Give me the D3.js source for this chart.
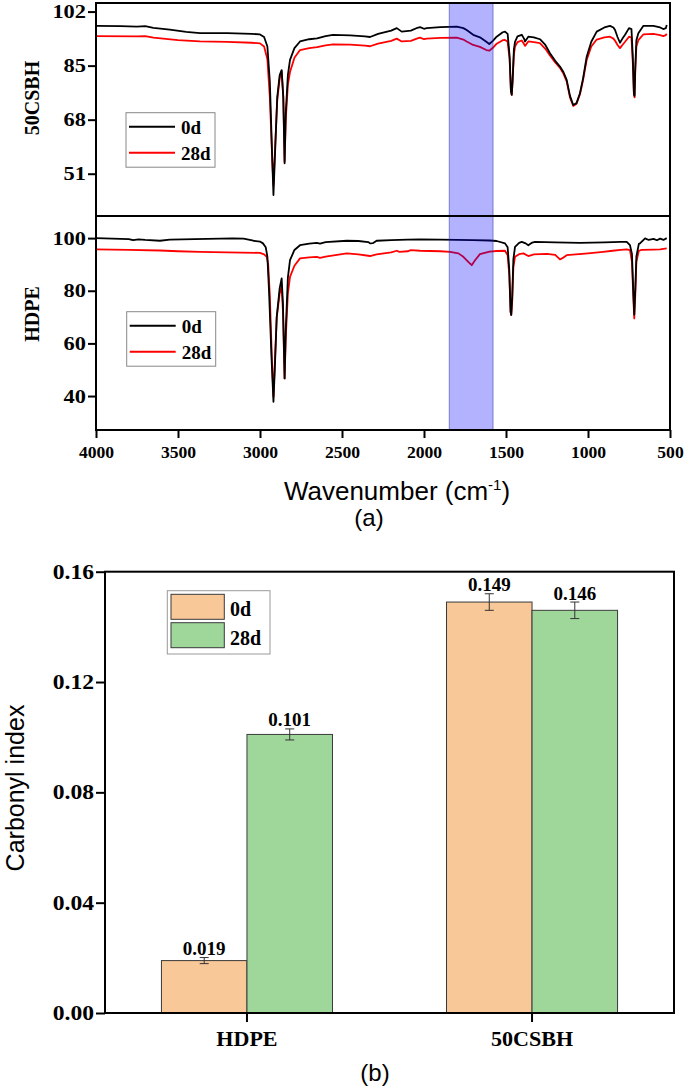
<!DOCTYPE html>
<html><head><meta charset="utf-8">
<script src="https://cdn.jsdelivr.net/npm/d3@7"></script>
<style>html,body{margin:0;padding:0;background:#fff;} svg{display:block;}</style>
</head><body>
<svg id="chart" width="685" height="1087"></svg>
<script>
// ---------- DATA ----------
// FTIR spectra: [wavenumber (cm-1), transmittance]
const csbh0d = [[4000,97.5],[3850,97.4],[3750,97.3],[3700,97.4],[3650,96.9],[3550,96.3],[3450,95.6],[3366,95.2],[3200,95.2],[3050,95.0],[3000,94.8],[2975,94.0],[2955,91],[2940,80],[2925,55],[2918,44.3],[2910,55],[2895,75],[2880,82],[2868,83.6],[2858,75],[2850,54.3],[2843,70],[2830,82],[2817,86.8],[2790,90.5],[2756,92.6],[2700,93.3],[2652,93.6],[2600,94.3],[2555,94.7],[2450,94.5],[2360,94.2],[2329,94.0],[2280,95.0],[2200,96.0],[2166,96.8],[2136,95.7],[2080,96.0],[2040,96.9],[2024,97.1],[2000,96.6],[1984,96.8],[1900,97.1],[1800,97.3],[1760,96.8],[1740,96.2],[1700,94.7],[1659,93.9],[1620,92.5],[1602,91.8],[1580,92.8],[1557,94.1],[1520,95.5],[1506,95.7],[1490,95.0],[1478,88],[1470,77],[1465,75.8],[1460,80],[1452,90],[1445,92.5],[1430,94.2],[1404,94.7],[1390,93.5],[1384,92.6],[1364,94.1],[1330,93.9],[1293,93.3],[1260,91.5],[1232,88.9],[1200,86.5],[1171,84.7],[1150,83],[1130,80.5],[1110,75.5],[1090,72.6],[1070,73.2],[1049,76.3],[1030,81],[1008,87.8],[980,92.5],[947,95.7],[900,97.0],[866,97.5],[845,97.0],[835,96.2],[820,94],[805,92.2],[790,93.5],[774,94.7],[750,96.8],[735,96.5],[727,88],[720,76],[716,75.5],[712,84],[705,93],[693,95.2],[663,97.5],[602,97.5],[560,97.0],[541,96.5],[525,96.8],[520,97.8]];
const csbh28d = [[4000,94.3],[3750,94.2],[3700,94.3],[3650,93.8],[3500,93.0],[3366,92.6],[3200,92.5],[3050,92.2],[3000,92.0],[2975,91.0],[2955,87],[2940,75],[2925,55],[2918,47.5],[2910,57],[2895,74],[2880,81],[2868,83.3],[2858,75],[2850,54.8],[2843,68],[2830,79],[2817,83],[2790,87.5],[2756,89.9],[2700,90.5],[2652,90.8],[2600,91.4],[2555,91.7],[2450,91.6],[2360,91.3],[2329,91.1],[2280,91.9],[2200,92.8],[2166,93.5],[2136,92.6],[2080,92.8],[2040,93.6],[2024,93.8],[2000,93.3],[1984,93.5],[1900,93.7],[1800,93.8],[1760,93.2],[1740,92.6],[1700,91.5],[1659,90.9],[1620,89.9],[1602,89.7],[1580,90.6],[1557,91.9],[1520,93.0],[1506,93.1],[1490,92.5],[1478,87],[1470,77],[1465,75.8],[1460,80],[1452,88.5],[1445,91],[1430,92.4],[1404,92.9],[1390,91.8],[1384,91.2],[1364,92.6],[1330,92.4],[1293,92.1],[1260,90.3],[1232,88.2],[1200,86.0],[1171,84.3],[1150,82.5],[1130,80.0],[1110,75],[1090,72.3],[1070,73],[1049,76],[1030,80.5],[1008,86.8],[980,91],[947,93.2],[900,93.9],[866,94.1],[845,93.5],[835,92.8],[820,91.5],[805,90.5],[790,91.5],[774,92.5],[750,94.1],[735,93.8],[727,86],[720,76],[716,75],[712,83],[705,91],[693,93.0],[663,94.8],[602,95.0],[560,94.6],[541,94.3],[525,94.6],[520,95.0]];
const hdpe0d = [[4000,100.0],[3900,99.8],[3800,99.6],[3774,99.2],[3740,99.5],[3700,99.3],[3610,99.0],[3550,99.4],[3400,99.6],[3164,99.9],[3100,99.8],[3040,99.0],[3000,98.7],[2982,98.0],[2965,96.5],[2955,93],[2945,80],[2930,55],[2918,37.8],[2910,50],[2898,70],[2880,81],[2868,84.7],[2860,75],[2850,46.7],[2843,65],[2830,85],[2817,91.6],[2790,95.5],[2756,97.3],[2700,97.9],[2654,98.2],[2634,97.9],[2600,98.5],[2471,99.0],[2400,98.9],[2340,98.5],[2329,98.0],[2310,98.1],[2289,99.0],[2200,99.2],[2100,99.4],[2024,99.5],[1900,99.4],[1800,99.3],[1700,99.2],[1600,99.1],[1557,98.9],[1506,98.0],[1490,96.5],[1480,88],[1472,72],[1468,70.8],[1462,78],[1455,92],[1445,96.7],[1420,98.2],[1404,98.6],[1380,98.0],[1364,97.3],[1340,98.3],[1323,98.6],[1200,98.4],[1049,98.2],[900,98.4],[800,98.6],[764,98.6],[744,97.3],[732,94],[724,80],[718,70.9],[712,80],[705,93],[690,97.8],[683,98.0],[652,99.9],[630,99.3],[600,99.7],[580,99.2],[560,99.8],[540,99.3],[520,100.0]];
const hdpe28d = [[4000,95.7],[3800,95.5],[3610,95.3],[3500,95.0],[3366,94.8],[3200,94.6],[3000,94.4],[2975,93.8],[2959,92.9],[2950,90],[2940,78],[2928,55],[2918,39.7],[2910,52],[2898,70],[2880,79],[2868,81.5],[2860,72],[2850,46.7],[2843,62],[2830,79],[2817,85.3],[2790,89.5],[2756,92.3],[2700,92.7],[2654,92.9],[2634,92.5],[2600,93.0],[2471,94.2],[2400,93.8],[2340,93.3],[2329,93.2],[2289,93.8],[2200,94.6],[2166,95.2],[2150,94.8],[2100,95.0],[2080,95.4],[2024,95.2],[1900,95.0],[1841,94.8],[1790,94.2],[1760,92.9],[1730,91.0],[1709,89.7],[1690,91.5],[1659,93.9],[1600,94.9],[1557,95.1],[1506,95.2],[1490,93.5],[1480,86],[1472,72],[1468,70.8],[1462,76],[1455,89],[1445,92.9],[1420,93.9],[1394,94.2],[1364,93.2],[1330,93.8],[1250,94.0],[1200,93.6],[1171,91.9],[1150,92.6],[1130,93.5],[1000,94.2],[907,94.8],[850,95.2],[800,95.5],[764,95.7],[744,95.4],[732,91],[724,78],[718,69.5],[712,78],[705,91],[690,95.2],[673,95.5],[600,95.6],[560,95.7],[520,96.1]];
const carbonylBand = [1846, 1579];
const wnTicks = [4000,3500,3000,2500,2000,1500,1000,500];
const csbhTicks = [51,68,85,102];
const hdpeTicks = [40,60,80,100];
const seriesNames = ["0d","28d"];
const seriesColors = ["#000000","#ff0000"];

// Carbonyl index bar chart
const samples = ["HDPE","50CSBH"];
const ci0d = [0.019, 0.149];
const ci28d = [0.101, 0.146];
const err0d = [0.0011, 0.003];
const err28d = [0.002, 0.003];
const ciLabels0d = ["0.019","0.149"];
const ciLabels28d = ["0.101","0.146"];
const ciTicks = [0.00,0.04,0.08,0.12,0.16];
const barColors = ["#f9c899","#9fd79b"];

// ---------- DRAW ----------
const svg = d3.select("#chart");
svg.append("rect").attr("width",685).attr("height",1087).attr("fill","#fff");
const SERIF = "'Liberation Serif','Times New Roman',serif";
const SANS = "'Liberation Sans',Arial,sans-serif";

function stretch(sel, sx){
  sel.each(function(){
    const t=d3.select(this); const x=+(t.attr("x")||0);
    t.attr("x", x/sx).attr("transform", `scale(${sx},1)`);
  });
}

// ---- Panel (a) ----
const L=96, R=670, T=3, M=216, B=430;
const x = d3.scaleLinear().domain([4000,500]).range([L,R]);
const yTop = d3.scaleLinear().domain([37.7,104.7]).range([M,T]);
const yBot = d3.scaleLinear().domain([27.1,108.4]).range([B,M]);

const lineTop = d3.line().x(d=>x(d[0])).y(d=>yTop(d[1]));
const lineBot = d3.line().x(d=>x(d[0])).y(d=>yBot(d[1]));
const gLines = svg.append("g").attr("fill","none").attr("stroke-width",1.8).attr("stroke-linejoin","round");
gLines.append("path").attr("d",lineTop(csbh28d)).attr("stroke",seriesColors[1]);
gLines.append("path").attr("d",lineTop(csbh0d)).attr("stroke",seriesColors[0]);
gLines.append("path").attr("d",lineBot(hdpe28d)).attr("stroke",seriesColors[1]);
gLines.append("path").attr("d",lineBot(hdpe0d)).attr("stroke",seriesColors[0]);

// highlight band
svg.append("rect")
  .attr("x",x(carbonylBand[0])).attr("y",T)
  .attr("width",x(carbonylBand[1])-x(carbonylBand[0])).attr("height",B-T)
  .attr("fill","rgb(0,0,255)").attr("fill-opacity",0.3)
  .attr("stroke","rgb(40,40,170)").attr("stroke-opacity",0.5).attr("stroke-width",1);

// frames
svg.append("rect").attr("x",L).attr("y",T).attr("width",R-L).attr("height",B-T)
  .attr("fill","none").attr("stroke","#000").attr("stroke-width",2);
svg.append("line").attr("x1",L).attr("x2",R).attr("y1",M).attr("y2",M).attr("stroke","#000").attr("stroke-width",2);

// axes
function styleAxis(g, size, sx){
  g.select(".domain").remove();
  g.selectAll(".tick line").attr("stroke","#000").attr("stroke-width",2);
  g.selectAll("text").attr("font-family",SERIF).attr("font-weight","bold").attr("font-size",size).attr("fill","#000");
  stretch(g.selectAll("text"), sx);
}
const gyt = svg.append("g").attr("transform",`translate(${L},0)`).call(d3.axisLeft(yTop).tickValues(csbhTicks).tickSize(8).tickPadding(2));
styleAxis(gyt,19,1.18);
const gyb = svg.append("g").attr("transform",`translate(${L},0)`).call(d3.axisLeft(yBot).tickValues(hdpeTicks).tickSize(8).tickPadding(2));
styleAxis(gyb,19,1.18);
const gx = svg.append("g").attr("transform",`translate(0,${B})`).call(d3.axisBottom(x).tickValues(wnTicks).tickFormat(d3.format("d")).tickSize(8));
gx.selectAll("text").attr("y",28).attr("dy",0);
styleAxis(gx,16,1.1);

// y titles
svg.append("text").attr("transform","translate(39,98) rotate(-90)").attr("text-anchor","middle")
  .attr("font-family",SERIF).attr("font-weight","bold").attr("font-size",20).text("50CSBH");
svg.append("text").attr("transform","translate(39,314) rotate(-90)").attr("text-anchor","middle")
  .attr("font-family",SERIF).attr("font-weight","bold").attr("font-size",20).text("HDPE");

// x title
const xt = svg.append("text").attr("x",397).attr("y",500).attr("text-anchor","middle")
  .attr("font-family",SANS).attr("font-size",26).attr("fill","#000");
xt.append("tspan").text("Wavenumber (cm");
xt.append("tspan").attr("font-size",15).attr("dy",-10).text("-1");
xt.append("tspan").attr("dy",10).text(")");
svg.append("text").attr("x",369).attr("y",526).attr("text-anchor","middle")
  .attr("font-family",SANS).attr("font-size",24).text("(a)");

// legends (a)
function lineLegend(bx,by){
  const g = svg.append("g");
  g.append("rect").attr("x",bx).attr("y",by).attr("width",89).attr("height",54.5)
    .attr("fill","#fff").attr("stroke","#888").attr("stroke-width",1);
  seriesNames.forEach((n,i)=>{
    const yy = by+14+i*26;
    g.append("line").attr("x1",bx+3).attr("x2",bx+49).attr("y1",yy).attr("y2",yy)
      .attr("stroke",seriesColors[i]).attr("stroke-width",2);
    g.append("text").attr("x",bx+55).attr("y",yy+7.5).attr("font-family",SERIF)
      .attr("font-weight","bold").attr("font-size",19).text(n);
  });
}
lineLegend(126,112.7);
lineLegend(126.7,311.7);

// ---- Panel (b) ----
const bL=105, bR=674, bT=571.7, bB=1013;
const xb = d3.scaleBand().domain(samples).range([bL,bR]).paddingInner(0.4).paddingOuter(0.198);
const xs = d3.scaleBand().domain(seriesNames).range([0,xb.bandwidth()]);
const yb = d3.scaleLinear().domain([0,0.16]).range([bB,bT]);

const vals = [ci0d, ci28d], errs=[err0d, err28d], labs=[ciLabels0d, ciLabels28d];
seriesNames.forEach((s,si)=>{
  samples.forEach((c,ci)=>{
    const v = vals[si][ci], e = errs[si][ci];
    const x0 = xb(c)+xs(s), w = xs.bandwidth(), cx = x0+w/2;
    svg.append("rect").attr("x",x0).attr("y",yb(v)).attr("width",w).attr("height",yb(0)-yb(v))
      .attr("fill",barColors[si]).attr("stroke","#3a3a3a").attr("stroke-width",1);
    const g = svg.append("g").attr("stroke","#333").attr("stroke-width",1);
    g.append("line").attr("x1",cx).attr("x2",cx).attr("y1",yb(v+e)).attr("y2",yb(v-e));
    g.append("line").attr("x1",cx-4.5).attr("x2",cx+4.5).attr("y1",yb(v+e)).attr("y2",yb(v+e));
    g.append("line").attr("x1",cx-4.5).attr("x2",cx+4.5).attr("y1",yb(v-e)).attr("y2",yb(v-e));
    svg.append("text").attr("x",cx).attr("y",yb(v+e)-2.5).attr("text-anchor","middle")
      .attr("font-family",SERIF).attr("font-weight","bold").attr("font-size",19).text(labs[si][ci]);
  });
});

svg.append("rect").attr("x",bL).attr("y",bT).attr("width",bR-bL).attr("height",bB-bT)
  .attr("fill","none").attr("stroke","#000").attr("stroke-width",2);

const gby = svg.append("g").attr("transform",`translate(${bL},0)`)
  .call(d3.axisLeft(yb).tickValues(ciTicks).tickFormat(d3.format(".2f")).tickSize(9).tickPadding(2));
styleAxis(gby,20,1.18);
const gbx = svg.append("g").attr("transform",`translate(0,${bB})`).call(d3.axisBottom(xb).tickSize(9));
gbx.selectAll("text").attr("y",33).attr("dy",0);
styleAxis(gbx,21,1.05);

svg.append("text").attr("transform","translate(24,788) rotate(-90)").attr("text-anchor","middle")
  .attr("font-family",SANS).attr("font-size",25).text("Carbonyl index");
svg.append("text").attr("x",375).attr("y",1081).attr("text-anchor","middle")
  .attr("font-family",SANS).attr("font-size",24).text("(b)");

// legend (b)
const lg = svg.append("g");
lg.append("rect").attr("x",167.3).attr("y",590.7).attr("width",102.7).attr("height",63.3)
  .attr("fill","#fff").attr("stroke","#999").attr("stroke-width",1);
seriesNames.forEach((n,i)=>{
  const yy = 594.3 + i*28.4;
  lg.append("rect").attr("x",171).attr("y",yy).attr("width",53.3).attr("height",25)
    .attr("fill",barColors[i]).attr("stroke","#3a3a3a").attr("stroke-width",1);
  lg.append("text").attr("x",230).attr("y",yy+22).attr("font-family",SERIF)
    .attr("font-weight","bold").attr("font-size",20).text(n);
});
</script>
</body></html>
